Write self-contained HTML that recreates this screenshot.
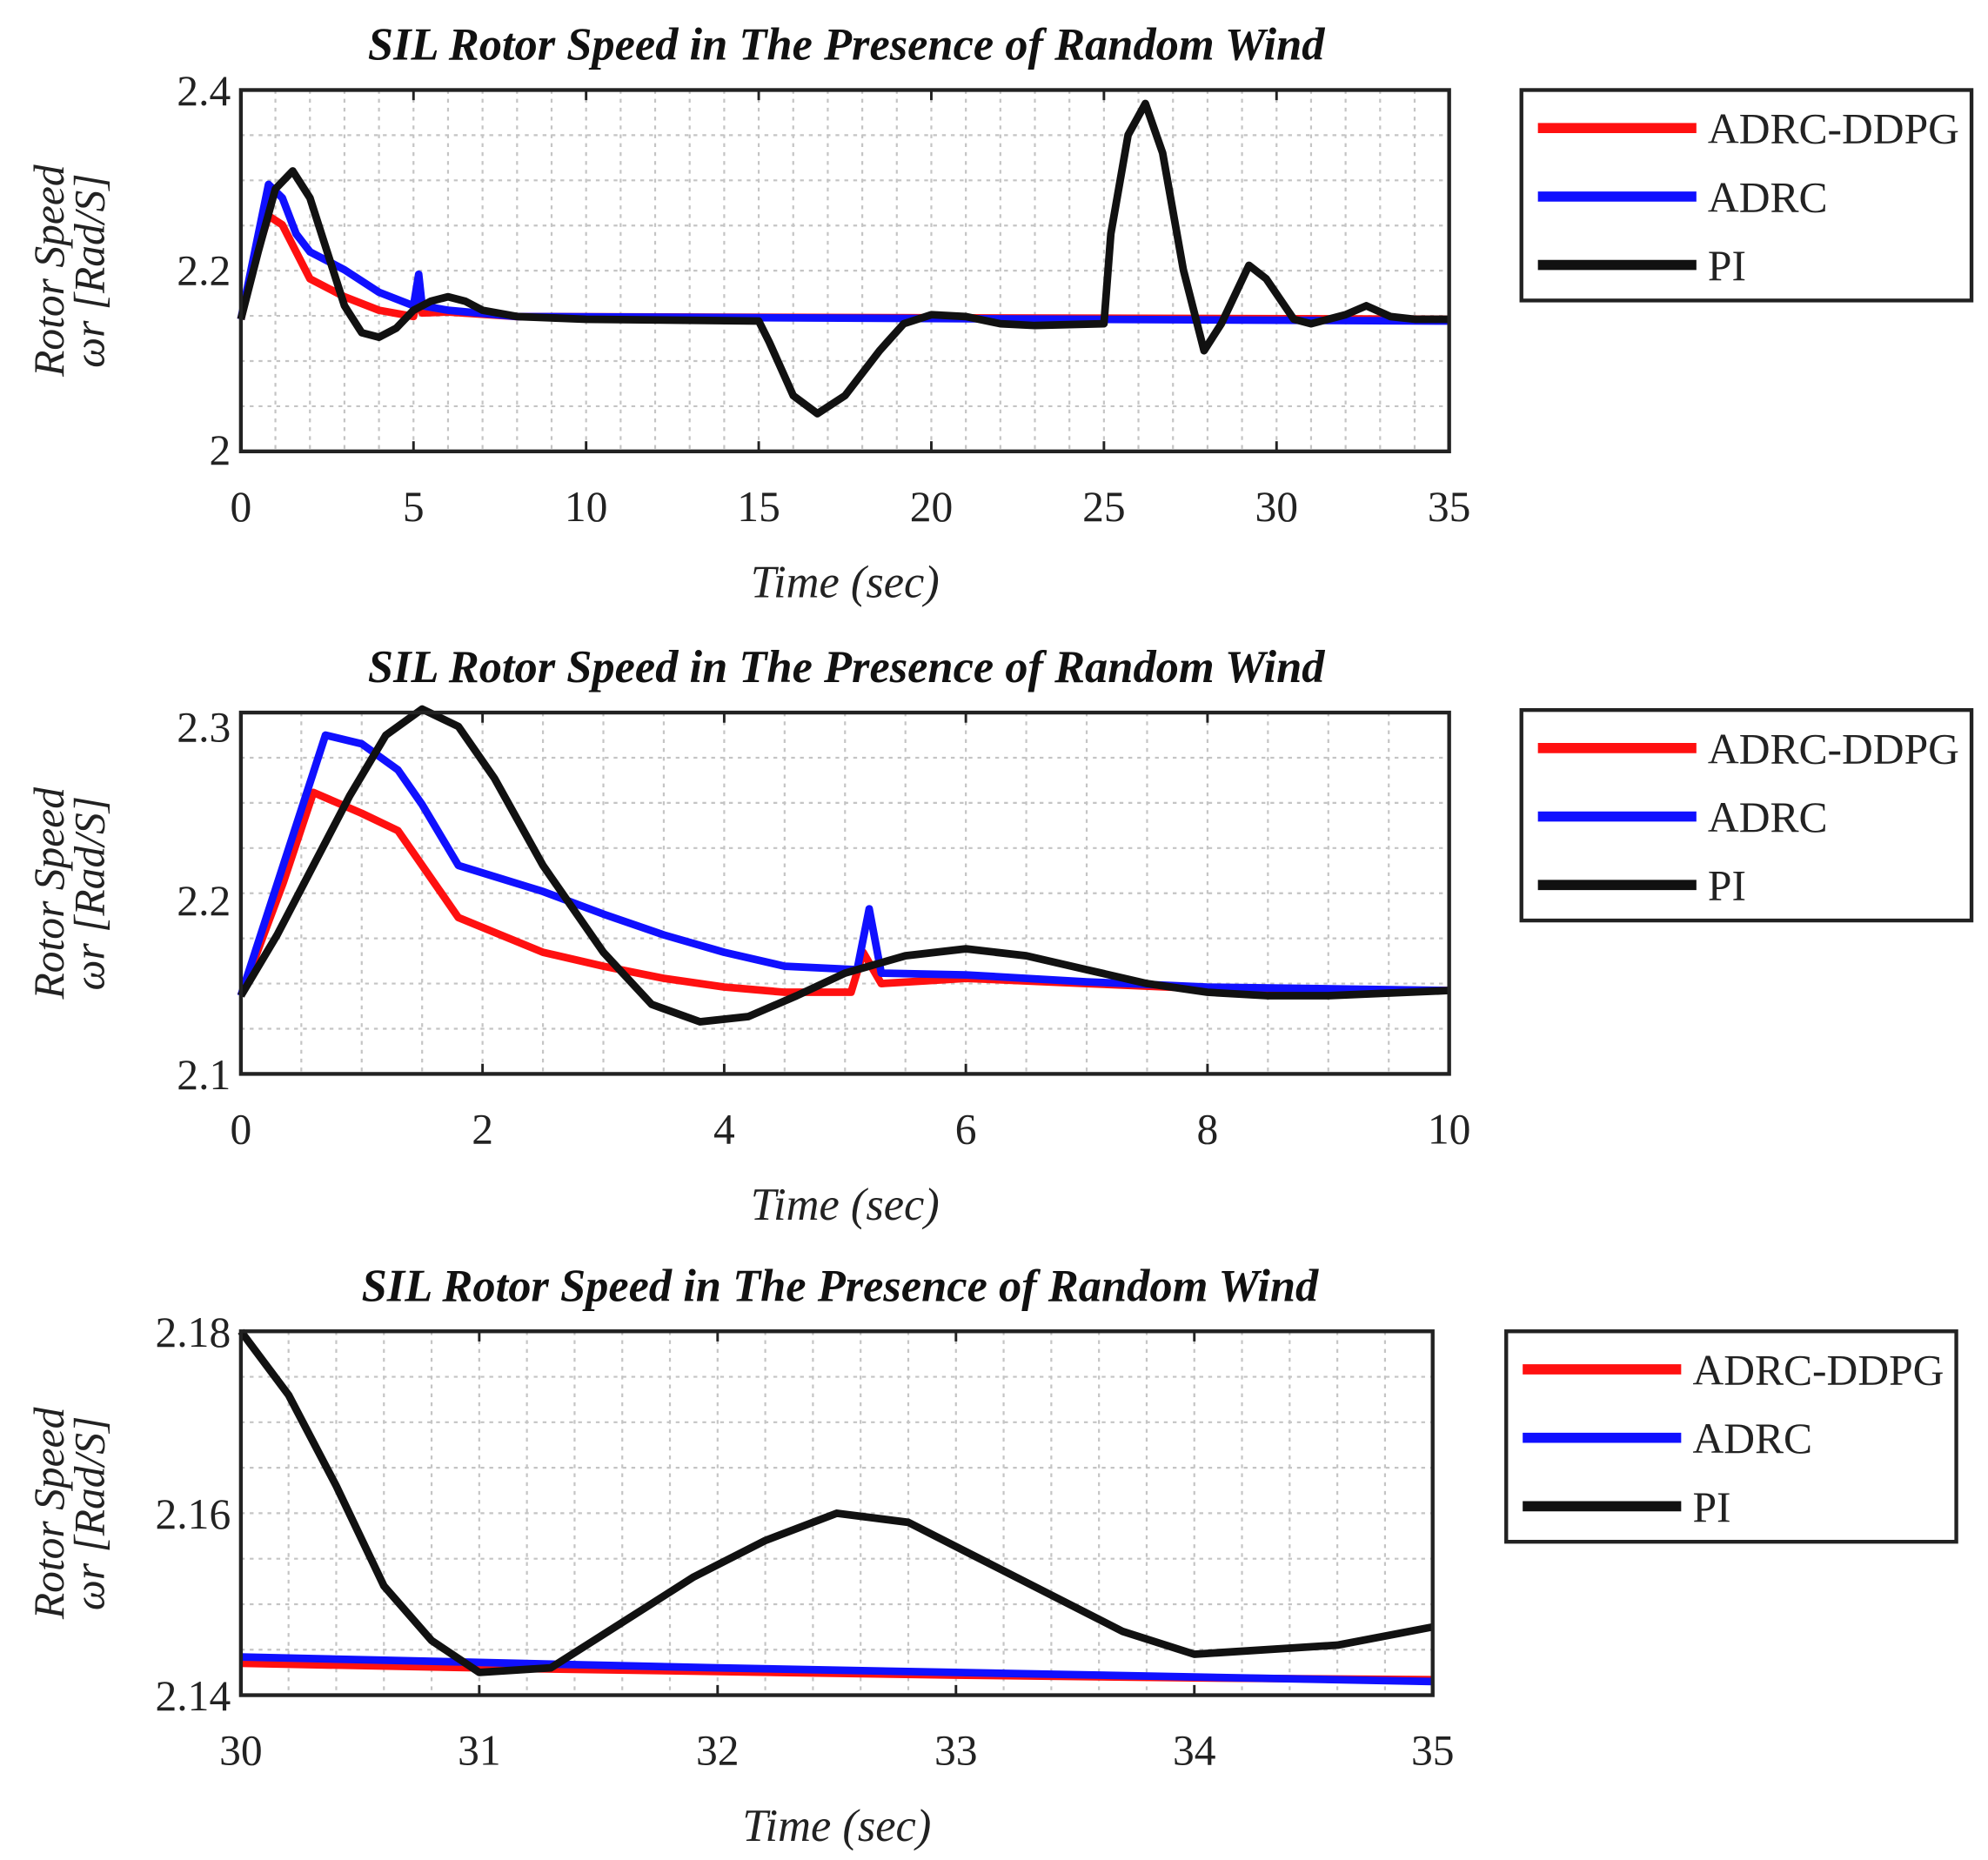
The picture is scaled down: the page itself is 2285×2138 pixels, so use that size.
<!DOCTYPE html>
<html><head><meta charset="utf-8"><style>
html,body{margin:0;padding:0;background:#fff;}
svg{display:block;}
text{font-family:"Liberation Serif",serif;}
</style></head><body>
<svg id="fig" width="2285" height="2138" viewBox="0 0 1568 1467" preserveAspectRatio="none" xmlns="http://www.w3.org/2000/svg"></svg>
<script>
// ---- Chart 1 data (0-35 s) ----
const c1PI_t = [0,0.5,1,1.5,2,2.5,3,3.5,4,4.5,5,5.5,6,6.5,7,8,10,15,15.3,16,16.7,17.5,18.5,19.2,20,21,22,23,25,25.2,25.7,26.2,26.7,27.3,27.9,28.4,29.2,29.7,30.5,31,32,32.6,33.3,34,35];
const c1PI_v = [2.145,2.22,2.29,2.31,2.28,2.22,2.16,2.13,2.125,2.135,2.155,2.165,2.17,2.165,2.155,2.148,2.145,2.143,2.12,2.06,2.04,2.06,2.11,2.14,2.15,2.148,2.14,2.138,2.14,2.24,2.35,2.385,2.33,2.2,2.11,2.14,2.205,2.19,2.145,2.14,2.15,2.16,2.148,2.145,2.145];
const c1ADRC_t = [0,0.4,0.8,1.2,1.6,2,3,4,5,5.15,5.25,6,8,35];
const c1ADRC_v = [2.145,2.22,2.295,2.28,2.24,2.22,2.2,2.175,2.16,2.195,2.16,2.155,2.148,2.143];
const c1DDPG_t = [0,0.4,0.8,1.2,1.6,2,3,4,5,5.15,5.25,6,8,35];
const c1DDPG_v = [2.145,2.21,2.26,2.25,2.22,2.19,2.17,2.155,2.148,2.175,2.152,2.153,2.148,2.145];
const c1XTicks = [0,5,10,15,20,25,30,35];
const c1YTicks = [2,2.2,2.4];
// ---- Chart 2 data (0-10 s) ----
const c2PI_t = [0,0.3,0.6,0.9,1.2,1.5,1.8,2.1,2.5,3,3.4,3.8,4.2,4.6,5,5.5,6,6.5,7,7.5,8,8.5,9,10];
const c2PI_v = [2.145,2.18,2.22,2.26,2.295,2.31,2.3,2.27,2.22,2.17,2.14,2.13,2.133,2.145,2.158,2.168,2.172,2.168,2.16,2.152,2.147,2.145,2.145,2.148];
const c2ADRC_t = [0,0.35,0.7,1,1.3,1.5,1.8,2.5,3,3.5,4,4.5,5.1,5.2,5.3,6,7,8,10];
const c2ADRC_v = [2.145,2.22,2.295,2.29,2.275,2.255,2.22,2.205,2.192,2.18,2.17,2.162,2.16,2.195,2.158,2.157,2.153,2.15,2.148];
const c2DDPG_t = [0,0.35,0.6,1,1.3,1.5,1.8,2.5,3,3.5,4,4.5,5.05,5.15,5.3,6,7,8,10];
const c2DDPG_v = [2.145,2.21,2.262,2.25,2.24,2.22,2.19,2.17,2.162,2.155,2.15,2.147,2.147,2.17,2.152,2.155,2.152,2.149,2.148];
const c2XTicks = [0,2,4,6,8,10];
const c2YTicks = [2.1,2.2,2.3];
// ---- Chart 3 data (30-35 s) ----
const c3PI_t = [30,30.2,30.4,30.6,30.8,31,31.3,31.6,31.9,32.2,32.5,32.8,33.1,33.4,33.7,34,34.3,34.6,35];
const c3PI_v = [2.18,2.173,2.163,2.152,2.146,2.1425,2.143,2.148,2.153,2.157,2.16,2.159,2.155,2.151,2.147,2.1445,2.145,2.1455,2.1475];
const c3ADRC_t = [30,31,32,33,34,35];
const c3ADRC_v = [2.1442,2.1436,2.143,2.1425,2.142,2.1415];
const c3DDPG_t = [30,31,32,33,34,35];
const c3DDPG_v = [2.1435,2.143,2.1426,2.1422,2.1419,2.1417];
const c3XTicks = [30,31,32,33,34,35];
const c3YTicks = [2.14,2.16,2.18];
const seriesNames = ["ADRC-DDPG","ADRC","PI"];

const NS="http://www.w3.org/2000/svg";
const svg=document.getElementById('fig');
function mk(tag,attrs,parent){const e=document.createElementNS(NS,tag);for(const k in attrs)e.setAttribute(k,attrs[k]);(parent||svg).appendChild(e);return e;}

function chart(id,box,xd,yd,xt,yt,yfmt,series,leg,minorX,minorY){
  const g=mk('g',{});
  
  
  const [x0,y0,x1,y1]=box;
  const sx=v=>x0+(v-xd[0])/(xd[1]-xd[0])*(x1-x0);
  const sy=v=>y1-(v-yd[0])/(yd[1]-yd[0])*(y1-y0);
  const grid=mk('g',{stroke:'#c4c4c4','stroke-width':1.5,'stroke-dasharray':'3,4'},g);
  
  
  for(let i=1;i<minorX;i++){const x=x0+i*(x1-x0)/minorX;mk('line',{x1:x,y1:y0,x2:x,y2:y1},grid);}
  for(let i=1;i<minorY;i++){const y=y0+i*(y1-y0)/minorY;mk('line',{x1:x0,y1:y,x2:x1,y2:y},grid);}
  const cols=['#ff1010','#1010ff','#111'];
  series.forEach((s,k)=>{
    const p=mk('polyline',{fill:'none',stroke:cols[k],'stroke-width':6,'stroke-linejoin':'round',points:s[0].map((t,i)=>sx(t)+','+sy(s[1][i])).join(' ')},g);
    
    
  });
  const ax=mk('rect',{x:x0,y:y0,width:x1-x0,height:y1-y0,fill:'none',stroke:'#222','stroke-width':3},g);
  
  
  xt.forEach(v=>{
    const x=sx(v);
    mk('line',{x1:x,y1:y1,x2:x,y2:y1-8,stroke:'#222','stroke-width':2},g);
    mk('line',{x1:x,y1:y0,x2:x,y2:y0+8,stroke:'#222','stroke-width':2},g);
    const t=mk('text',{x:x,y:y1+55,'text-anchor':'middle','font-size':34,fill:'#222'},g);
    t.textContent=String(v);
    
    
  });
  yt.forEach(v=>{
    const y=sy(v);
    const t=mk('text',{x:x0-8,y:y+12,'text-anchor':'end','font-size':34,fill:'#222'},g);
    t.textContent=yfmt(v);
    
    
  });
  const ti=mk('text',{x:(x0+955/2)+(id==='chart-3'?-5:0),y:y0-24,'text-anchor':'middle','font-size':36,'font-weight':'bold','font-style':'italic',fill:'#111'},g);
  ti.textContent='SIL Rotor Speed in The Presence of Random Wind';
  
  
  const xl=mk('text',{x:(x0+x1)/2,y:y1+115,'text-anchor':'middle','font-size':36,'font-style':'italic',fill:'#222'},g);
  xl.textContent='Time (sec)';
  
  
  const cy=(y0+y1)/2, lx=x0-140;
  const yl=mk('text',{transform:`translate(${lx},${cy}) rotate(-90)`,'text-anchor':'middle','font-size':34,'font-style':'italic',fill:'#222'},g);
  yl.textContent='Rotor Speed';
  
  
  const yl2=mk('text',{transform:`translate(${lx+32},${cy}) rotate(-90)`,'text-anchor':'middle','font-size':34,'font-style':'italic',fill:'#222'},g);
  yl2.textContent='ωr [Rad/S]';
  
  
  const [lx0,ly0]=leg;
  const lg=mk('g',{},g);
  
  
  mk('rect',{x:lx0,y:ly0,width:355,height:166,fill:'#fff',stroke:'#222','stroke-width':3},lg);
  seriesNames.forEach((n,k)=>{
    const yy=ly0+30+k*54;
    mk('line',{x1:lx0+13,y1:yy,x2:lx0+138,y2:yy,stroke:cols[k],'stroke-width':8},lg);
    const t=mk('text',{x:lx0+147,y:yy+12,'font-size':34,fill:'#222'},lg);
    t.textContent=n;
    
    
  });
}
const f1=v=>String(v);
chart('chart-1',[190,71,1143,356],[0,35],[1.998,2.4],c1XTicks,c1YTicks,f1,
  [[c1DDPG_t,c1DDPG_v],[c1ADRC_t,c1ADRC_v],[c1PI_t,c1PI_v]],[1200,71],35,8);
chart('chart-2',[190,562,1143,847],[0,10],[2.1,2.308],c2XTicks,c2YTicks,f1,
  [[c2DDPG_t,c2DDPG_v],[c2ADRC_t,c2ADRC_v],[c2PI_t,c2PI_v]],[1200,560],20,8);
chart('chart-3',[190,1050,1130,1337],[30,35],[2.14,2.18],c3XTicks,c3YTicks,v=>v.toFixed(2),
  [[c3DDPG_t,c3DDPG_v],[c3ADRC_t,c3ADRC_v],[c3PI_t,c3PI_v]],[1188,1050],25,8);
</script>
</body></html>
